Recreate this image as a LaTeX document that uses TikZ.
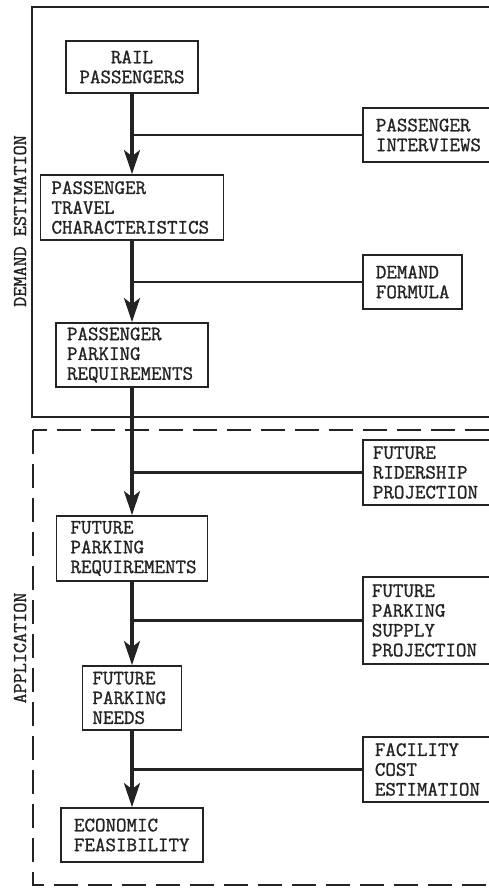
\documentclass[tikz,border=0pt]{standalone}
\usepackage{fontspec}
\setmonofont[FakeBold=1.2]{Latin Modern Mono}
\usetikzlibrary{arrows.meta}
\definecolor{ink}{RGB}{35,35,35}
\begin{document}
\begin{tikzpicture}[x=1pt,y=-1pt,
  every node/.style={font=\ttfamily\fontsize{20.4}{19.8}\selectfont, text=ink},
  box/.style={draw=ink, line width=1.8pt, inner ysep=0pt, align=left, anchor=center},
  flow/.style={draw=ink, line width=3.5pt, -{Stealth[length=24pt,width=16pt,inset=6pt]}},
  feed/.style={draw=ink, line width=2.6pt},
  frame/.style={draw=ink, line width=1.3pt},
  side/.style={rotate=90, font=\ttfamily\fontsize{19.6}{19.6}\selectfont}
]
\useasboundingbox (0,0) rectangle (489,888);
\clip (0,0) rectangle (489,888);

% frames
\draw[frame] (32,7) rectangle (520,417);
\draw[frame, dashed, dash pattern=on 24pt off 10pt] (33,430) rectangle (520,885);
\node[side] (lbl1) at (20,221) {DEMAND ESTIMATION};
\node[side] (lbl2) at (20,648) {APPLICATION};

% main column
\node[box, align=center, text width=110pt, inner xsep=11pt, minimum height=52pt] (rp) at (132,67) {RAIL\\PASSENGERS};
\node[box, text width=161pt, inner xsep=11pt, minimum height=65pt] (ptc) at (132,207.5) {PASSENGER\\TRAVEL\\CHARACTERISTICS};
\node[box, text width=130pt, inner xsep=11pt, minimum height=64pt] (ppr) at (132,355) {PASSENGER\\PARKING\\REQUIREMENTS};
\node[box, text width=123pt, inner xsep=14pt, minimum height=65pt] (fpr) at (132,548.5) {FUTURE\\PARKING\\REQUIREMENTS};
\node[box, text width=79pt, inner xsep=10pt, minimum height=64pt] (fpn) at (132,698) {FUTURE\\PARKING\\NEEDS};
\node[box, text width=116pt, inner xsep=13pt, minimum height=54pt] (ef) at (132,835) {ECONOMIC\\FEASIBILITY};

% side inputs
\node[box, text width=101pt, inner xsep=13pt, minimum height=54pt, anchor=west] (pi) at (362,135) {PASSENGER\\INTERVIEWS};
\node[box, text width=73pt, inner xsep=13pt, minimum height=54pt, anchor=west] (df) at (362,282) {DEMAND\\FORMULA};
\node[box, text width=107pt, inner xsep=10pt, minimum height=65pt, anchor=west] (frp) at (362,472.5) {FUTURE\\RIDERSHIP\\PROJECTION};
\node[box, text width=109pt, inner xsep=9pt, minimum height=87pt, anchor=west] (fps) at (362,620.5) {FUTURE\\PARKING\\SUPPLY\\PROJECTION};
\node[box, text width=103pt, inner xsep=12pt, minimum height=65pt, anchor=west] (fce) at (362,769.5) {FACILITY\\COST\\ESTIMATION};

% connectors
\draw[flow] (rp.south) -- (ptc.north);
\draw[flow] (ptc.south) -- (ppr.north);
\draw[flow] (ppr.south) -- (fpr.north);
\draw[flow] (fpr.south) -- (fpn.north);
\draw[flow] (fpn.south) -- (ef.north);

\draw[feed] (pi.west) -- (pi.west -| rp.south);
\draw[feed] (df.west) -- (df.west -| rp.south);
\draw[feed] (frp.west) -- (frp.west -| rp.south);
\draw[feed] (fps.west) -- (fps.west -| rp.south);
\draw[feed] (fce.west) -- (fce.west -| rp.south);
\end{tikzpicture}
\end{document}
